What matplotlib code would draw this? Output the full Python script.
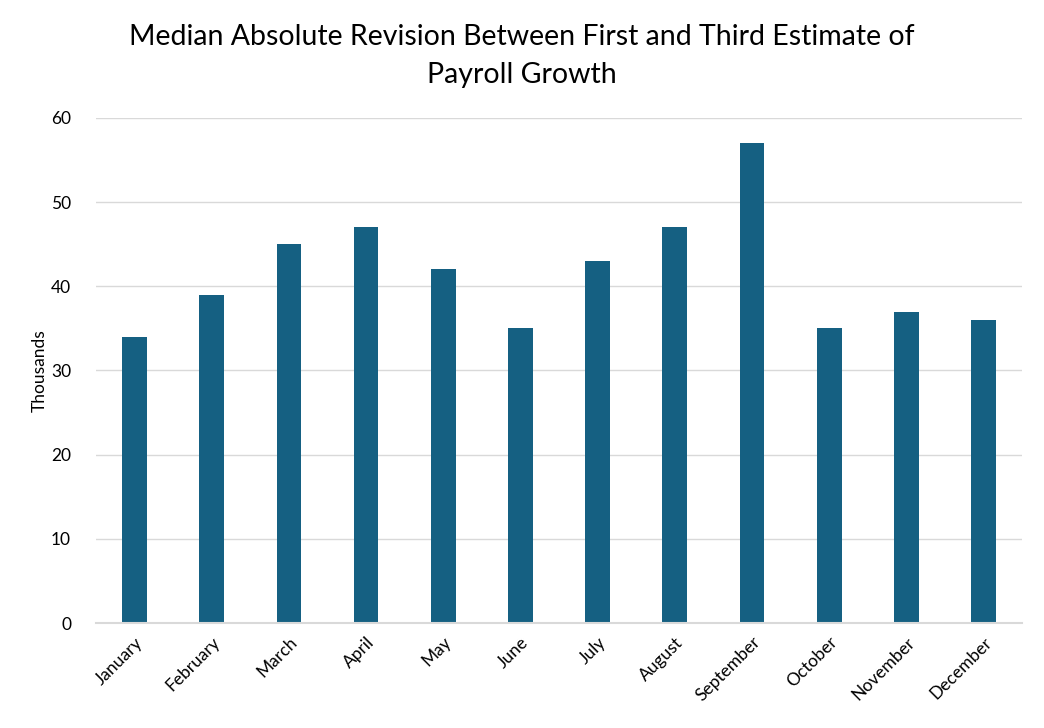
import numpy as np
import matplotlib.pyplot as plt

months = ["January", "February", "March", "April", "May", "June",
          "July", "August", "September", "October", "November", "December"]
revisione = [34, 39, 45, 47, 42, 35, 43, 47, 57, 35, 37, 36]
y_ticks = [0, 10, 20, 30, 40, 50, 60]

plt.rcParams['font.family'] = ['Lato', 'DejaVu Sans']

fig = plt.figure(figsize=(10.44, 7.28), dpi=100)
ax = fig.add_axes([0.092, 0.1442, 0.887, 0.6938])

x = np.arange(len(months))
ax.bar(x, revisione, width=0.32, color="#156082", zorder=3)

ax.set_xlim(-0.5, len(months) - 0.5)
ax.set_ylim(0, 60)
ax.set_yticks(y_ticks)
ax.yaxis.grid(True, color="#D9D9D9", linewidth=1, zorder=0)
ax.set_xticks(x)
ax.set_xticklabels(months, rotation=45, ha="right", rotation_mode="anchor", fontsize=12.5)
ax.tick_params(axis="y", labelsize=12.5, length=0, pad=18)
ax.tick_params(axis="x", length=0, pad=8)

for s in ["top", "right", "left"]:
    ax.spines[s].set_visible(False)
ax.spines["bottom"].set_color("#D9D9D9")
ax.spines["bottom"].set_linewidth(1.5)
ax.spines["bottom"].set_zorder(4)

ax.set_ylabel("Thousands", fontsize=12.5)
ax.yaxis.set_label_coords(-0.052, 0.5)
fig.suptitle("Median Absolute Revision Between First and Third Estimate of\nPayroll Growth",
             fontsize=20.5, x=0.5, y=0.967, linespacing=1.55)

plt.savefig("out.png", dpi=100)
